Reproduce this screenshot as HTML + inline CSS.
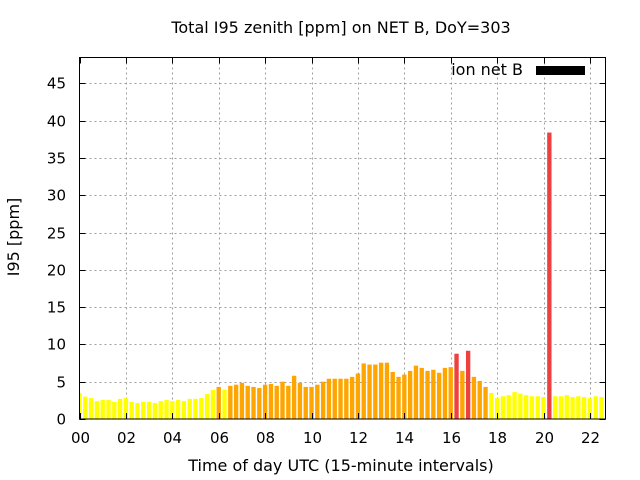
<!DOCTYPE html>
<html><head><meta charset="utf-8"><style>
body{margin:0;background:#fff}
svg{display:block;font-family:"DejaVu Sans","Liberation Sans",sans-serif;font-size:15px}
.big{font-size:16px}
</style></head><body>
<svg id="chart" width="640" height="480">
<text class="big" x="341" y="33" text-anchor="middle">Total I95 zenith [ppm] on NET B, DoY=303</text>
<g id="grid"></g><g id="bars"></g><g id="axes"></g>
<text class="big" x="341" y="471" text-anchor="middle">Time of day UTC (15-minute intervals)</text>
<text class="big" transform="translate(19,237) rotate(-90)" text-anchor="middle">I95 [ppm]</text>
<g>
<text class="big" x="523" y="75" text-anchor="end">ion net B</text>
<rect x="536" y="66" width="49" height="9" fill="#000"></rect>
</g>
<rect x="79.5" y="57.5" width="526" height="361.5" fill="none" stroke="#000"></rect>
</svg>
<script>
const values=[3.5,3.0,2.8,2.4,2.55,2.55,2.3,2.7,2.8,2.3,2.15,2.3,2.3,2.15,2.4,2.55,2.4,2.55,2.4,2.7,2.7,2.8,3.35,3.9,
4.3,3.95,4.45,4.6,4.85,4.45,4.3,4.15,4.6,4.7,4.45,5.0,4.45,5.8,4.85,4.3,4.3,4.6,5.0,5.4,5.4,
5.4,5.4,5.65,6.1,7.45,7.3,7.3,7.55,7.55,6.3,5.65,5.95,6.45,7.15,6.85,6.45,6.6,6.2,6.85,6.95,8.75,6.45,9.15,5.65,5.1,4.3,3.5,
2.8,3.05,3.2,3.6,3.4,3.2,3.05,3.05,2.95,38.4,3.05,3.05,3.2,2.95,3.05,2.95,2.8,3.05,2.95,2.95];
const yTicks=[0,5,10,15,20,25,30,35,40,45];
const xTicks=[0,2,4,6,8,10,12,14,16,18,20,22];
const xTickLabels=["00","02","04","06","08","10","12","14","16","18","20","22"];
const L=79.5,R=605.5,T=57.5,B=419,XMAX=22.67,YMAX=48.46;
const xs=h=>L+h/XMAX*(R-L);
const ys=v=>B-v/YMAX*(B-T);
const NS="http://www.w3.org/2000/svg";
const mk=(t,a,p)=>{const e=document.createElementNS(NS,t);for(const k in a)e.setAttribute(k,a[k]);p.appendChild(e);return e;};
const grid=document.getElementById('grid'),axes=document.getElementById('axes'),bars=document.getElementById('bars');
yTicks.forEach(v=>{const y=Math.round(ys(v))+0.5;
 if(v>0){const g=mk('line',{x1:L,x2:R,y1:y,y2:y,stroke:'#a0a0a0','stroke-dasharray':'2,3'},grid);
 
 }
 mk('line',{x1:L,x2:L+6,y1:y,y2:y,stroke:'#000'},axes);mk('line',{x1:R,x2:R-6,y1:y,y2:y,stroke:'#000'},axes);
 const t=mk('text',{x:66,y:y+5,'text-anchor':'end'},axes);t.textContent=v;
 
 });
xTicks.forEach((h,i)=>{const x=Math.round(xs(h))+0.5;
 if(h>0){const g=mk('line',{x1:x,x2:x,y1:T,y2:B,stroke:'#a0a0a0','stroke-dasharray':'2,3'},grid);
 
 }
 mk('line',{x1:x,x2:x,y1:B,y2:B-6,stroke:'#000'},axes);mk('line',{x1:x,x2:x,y1:T,y2:T+6,stroke:'#000'},axes);
 const t=mk('text',{x:x,y:443,'text-anchor':'middle'},axes);t.textContent=xTickLabels[i];
 
 });
const bw=(xs(0.25)-xs(0))*0.75;
values.forEach((v,i)=>{const c=xs(i*0.25);let x0=Math.max(L,c-bw/2),x1=Math.min(R,c+bw/2);
 const col=v>8?'#ef4040':(v>=4.1?'#ffa500':'#ffff00');
 const r=mk('rect',{x:x0,y:ys(v),width:x1-x0,height:B-ys(v),fill:col},bars);
 
 });
</script>
</body></html>
